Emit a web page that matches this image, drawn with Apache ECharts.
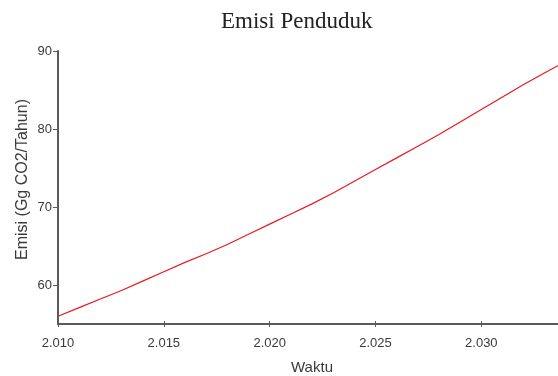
<!DOCTYPE html>
<html>
<head>
<meta charset="utf-8">
<script src="https://cdn.jsdelivr.net/npm/echarts@6/dist/echarts.min.js"></script>
<style>
  html, body { margin: 0; padding: 0; background: #fff; }
  #chart { width: 558px; height: 376px; }
</style>
</head>
<body>
<div id="chart"></div>
<script>
// Population emissions, Gg CO2 per year
const years = [2010, 2011, 2012, 2013, 2014, 2015, 2016, 2017, 2018, 2019, 2020, 2021,
               2022, 2023, 2024, 2025, 2026, 2027, 2028, 2029, 2030, 2031, 2032, 2033, 2034];
const emisi = [56.0, 57.1, 58.2, 59.3, 60.5, 61.7, 62.9, 64.0, 65.2, 66.5, 67.8, 69.1,
               70.4, 71.8, 73.3, 74.8, 76.3, 77.8, 79.3, 80.9, 82.5, 84.1, 85.7, 87.2, 88.7];
const xTicks = [2010, 2015, 2020, 2025, 2030];
const yTicks = [60, 70, 80, 90];

const chartTitle = 'Emisi Penduduk';
const xName = 'Waktu';
const yName = 'Emisi (Gg CO2/Tahun)';

// Indonesian thousands separator: 2010 -> "2.010"
function fmtYear(v) {
  const s = String(v);
  return s.slice(0, s.length - 3) + '.' + s.slice(s.length - 3);
}

const axisGray = '#5a5a5a';
const labelGray = '#3a3a3a';
const xMin = 2010, xMax = 2034, yMin = 55, yMax = 90;

const chart = echarts.init(document.getElementById('chart'), null, { renderer: 'canvas' });
chart.setOption({
  animation: false,
  backgroundColor: '#ffffff',
  title: {
    text: chartTitle,
    left: 216,
    top: 5,
    textStyle: { fontFamily: 'Liberation Serif', fontSize: 23, fontWeight: 'normal', color: '#222' }
  },
  grid: { left: 58, right: -8, top: 51, bottom: 52, containLabel: false, outerBoundsMode: 'none' },
  xAxis: [{
    type: 'value',
    min: xMin, max: xMax,
    name: xName,
    nameLocation: 'middle',
    nameGap: 36,
    nameTextStyle: { fontFamily: 'Liberation Sans', fontSize: 15, color: labelGray },
    axisLine: { lineStyle: { color: axisGray, width: 2 } },
    axisTick: { show: true, length: 3, customValues: xTicks, lineStyle: { color: axisGray, width: 1 } },
    axisLabel: {
      customValues: xTicks,
      formatter: fmtYear,
      fontFamily: 'Liberation Sans', fontSize: 13, color: labelGray, margin: 13
    },
    splitLine: { show: false }
  }, {
    // inner half of the x ticks
    type: 'value',
    position: 'bottom',
    min: xMin, max: xMax,
    axisLine: { show: false },
    axisTick: { show: true, inside: true, length: 3, customValues: xTicks, lineStyle: { color: axisGray, width: 1 } },
    axisLabel: { show: false, customValues: xTicks },
    splitLine: { show: false }
  }],
  yAxis: {
    type: 'value',
    min: yMin, max: yMax,
    name: yName,
    nameLocation: 'middle',
    nameGap: 27,
    nameMoveOverlap: false,
    nameTextStyle: { fontFamily: 'Liberation Sans', fontSize: 16, color: labelGray, padding: [0, 0, 0, 16] },
    axisLine: { show: true, lineStyle: { color: axisGray, width: 2 } },
    axisTick: { show: true, length: 5, customValues: yTicks, lineStyle: { color: axisGray, width: 1 } },
    axisLabel: {
      customValues: yTicks,
      fontFamily: 'Liberation Sans', fontSize: 13, color: labelGray, margin: 6
    },
    splitLine: { show: false }
  },
  series: [{
    type: 'line',
    data: years.map((y, i) => [y, emisi[i]]),
    showSymbol: false,
    smooth: false,
    lineStyle: { color: '#e8191f', width: 1.2 },
    clip: true
  }]
});
</script>
</body>
</html>
